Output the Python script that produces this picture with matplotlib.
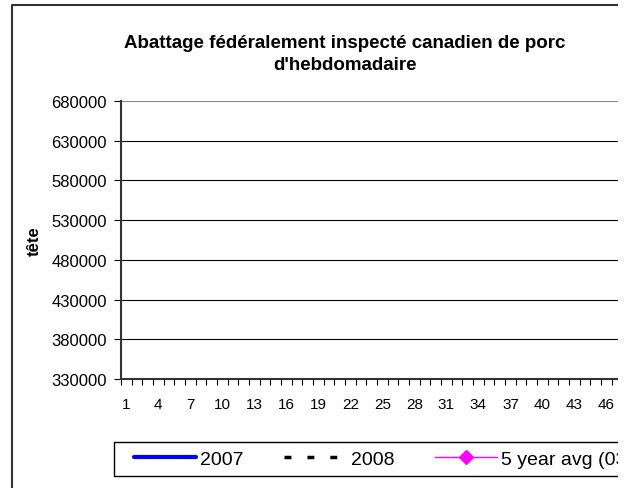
import matplotlib
matplotlib.use('Agg')
import matplotlib.pyplot as plt
from matplotlib.lines import Line2D
from matplotlib.patches import Rectangle
import numpy as np

plt.rcParams['font.family'] = ['Liberation Sans', 'DejaVu Sans']

# data (the series carry no visible points in the reference)
weeks = list(range(1, 53))
tick_weeks = weeks[::3]
series_2007 = []
series_2008 = []
series_avg = []
y_ticks = list(range(330000, 680001, 50000))

W, H = 629, 489


def fx(x):
    return x / W


def fy(y):
    return 1 - y / H


fig = plt.figure(figsize=(W / 100, H / 100), dpi=100)
ax = fig.add_axes([fx(121), fy(380), (618 - 121) / W, (380 - 102) / H])

l1, = ax.plot(series_2007, series_2007, color='#0000ff', lw=3, solid_capstyle='round')
l2, = ax.plot(series_2008, series_2008, color='black', lw=2.5, dashes=(2, 4.6))
l3, = ax.plot(series_avg, series_avg, color='#ff00ff', lw=1, marker='D', markersize=7)

ax.set_yticks(y_ticks)
ax.set_xticks(tick_weeks)
ax.set_xticks(np.arange(0.5, len(weeks) + 1, 1), minor=True)
ax.set_ylim(330000, 680000)
ax.set_xlim(0.5, 47.08)  # chart is cropped at the right

ax.yaxis.grid(True, color='black', lw=0.8)
ax.get_ygridlines()[-1].set_color('#888888')
ax.set_axisbelow(True)

for s in ['top', 'right']:
    ax.spines[s].set_visible(False)
for s in ['left', 'bottom']:
    ax.spines[s].set_linewidth(1.5)
    ax.spines[s].set_color('#333333')

ax.tick_params(axis='x', which='major', length=0, pad=13, labelsize=11)
ax.tick_params(axis='x', which='minor', length=4, width=0.8, direction='out')
ax.tick_params(axis='y', length=5, width=0.8, pad=5, labelsize=12)

fig.text(fx(345), fy(54.5), "Abattage fédéralement inspecté canadien de porc\nd'hebdomadaire",
         ha='center', va='center', fontsize=13.5, weight='bold', linespacing=1.37)
fig.text(fx(34), fy(241), 'tête', rotation=90, ha='center', va='center',
         fontsize=12, weight='bold')

fig.legend([l1, l2, l3], ['2007', '2008', '5 year avg (03-07)'],
           loc='center left', bbox_to_anchor=(fx(134), fy(460)),
           frameon=False, borderaxespad=0, borderpad=0, ncol=3,
           handlelength=3.2, handletextpad=0.2, columnspacing=2.1, fontsize=14)

# legend box (open on the cropped right side)
fig.add_artist(Line2D([fx(618), fx(114), fx(114), fx(618)],
                      [fy(443), fy(443), fy(477), fy(477)],
                      color='black', lw=1, transform=fig.transFigure))

# outer chart border
fig.add_artist(Line2D([fx(11.7), fx(11.7), fx(618)], [0, fy(6.3), fy(6.3)],
                      color='#333333', lw=1.5, transform=fig.transFigure))

# cropped right strip
fig.add_artist(Rectangle((fx(618), 0), 11 / W, 1, facecolor='white',
                         edgecolor='none', transform=fig.transFigure, zorder=50))

fig.savefig('out.png', dpi=100)
